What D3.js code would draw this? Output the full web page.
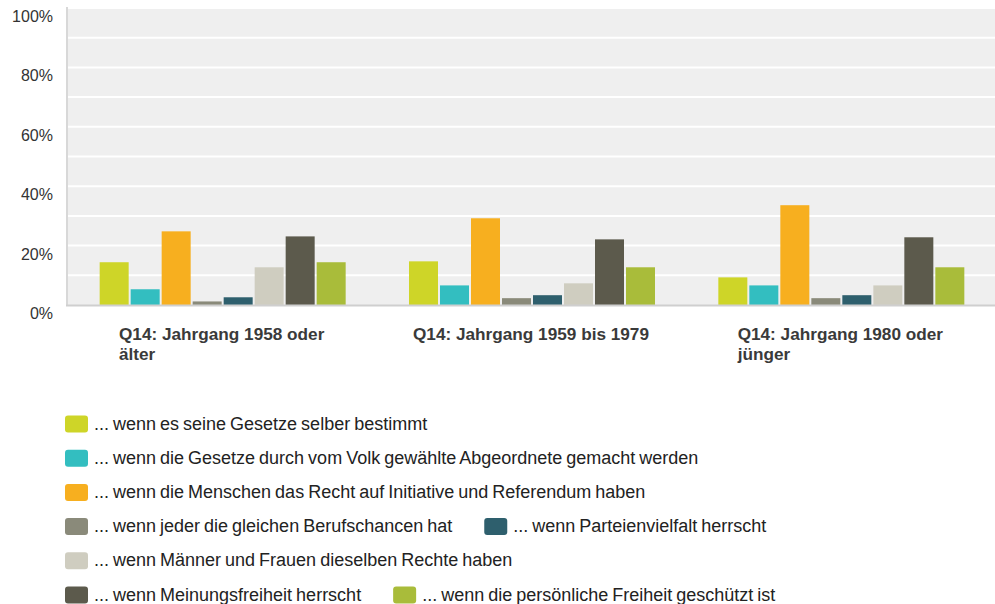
<!DOCTYPE html>
<html>
<head>
<meta charset="utf-8">
<script src="https://cdn.jsdelivr.net/npm/d3@7"></script>
<style>
  body { margin: 0; background: #fff; }
  text { font-family: "Liberation Sans", Arial, sans-serif; }
</style>
</head>
<body>
<div id="chart"></div>
<script>
var groups = ["Q14: Jahrgang 1958 oder älter", "Q14: Jahrgang 1959 bis 1979", "Q14: Jahrgang 1980 oder jünger"];
var seriesNames = [
  "... wenn es seine Gesetze selber bestimmt",
  "... wenn die Gesetze durch vom Volk gewählte Abgeordnete gemacht werden",
  "... wenn die Menschen das Recht auf Initiative und Referendum haben",
  "... wenn jeder die gleichen Berufschancen hat",
  "... wenn Parteienvielfalt herrscht",
  "... wenn Männer und Frauen dieselben Rechte haben",
  "... wenn Meinungsfreiheit herrscht",
  "... wenn die persönliche Freiheit geschützt ist"
];
var colors = ["#ced528", "#33bec0", "#f7af1f", "#8a8a7a", "#2e5f6d", "#cfcdc0", "#5c5a4c", "#a9bc3a"];
// percent per group, one array per series
var values1958 = [14.4, 5.3, 24.8, 1.2, 2.6, 12.7, 23.1, 14.4];
var values1959 = [14.7, 6.6, 29.2, 2.3, 3.3, 7.3, 22.1, 12.7];
var values1980 = [9.3, 6.6, 33.6, 2.3, 3.3, 6.6, 22.8, 12.7];
var yTicks = [0, 20, 40, 60, 80, 100];

var data = groups.map(function(g, i){
  var vals = [values1958, values1959, values1980][i];
  return { group: g, values: vals.map(function(v, j){ return { s: j, v: v }; }) };
});

var props = { width: 995, height: 604, left: 67, right: 995, top: 8, bottom: 305 };

var svg = d3.select("#chart").append("svg").attr("width", props.width).attr("height", props.height);

var y = d3.scaleLinear().domain([0, 100]).range([props.bottom, props.top]);
var x0 = d3.scaleBand().domain(groups).range([props.left, props.right]);
var innerW = 246;
var x1 = d3.scaleBand().domain(d3.range(seriesNames.length)).range([0, innerW]).paddingInner(2 / 31);
var innerOff = (x0.bandwidth() - innerW) / 2 + 1;

// plot background
svg.append("rect")
  .attr("x", props.left).attr("y", props.top - 1)
  .attr("width", props.right - props.left).attr("height", props.bottom - props.top + 1)
  .style("fill", "#efefef");

// gridlines
svg.append("g").selectAll("line")
  .data(d3.range(10, 101, 10))
  .enter()
  .append("line")
  .attr("x1", props.left).attr("x2", props.right)
  .attr("y1", function(d){ return y(d); }).attr("y2", function(d){ return y(d); })
  .style("stroke", "#fff").style("stroke-width", 2);

// bars
var gs = svg.append("g").selectAll(".grp")
  .data(data)
  .enter()
  .append("g")
  .attr("transform", function(d){ return "translate(" + (x0(d.group) + innerOff) + ",0)"; });

gs.selectAll("rect")
  .data(function(d){ return d.values; })
  .enter()
  .append("rect")
  .attr("x", function(d){ return x1(d.s); })
  .attr("width", x1.bandwidth())
  .attr("y", function(d){ return y(d.v); })
  .attr("height", function(d){ return y(0) - y(d.v); })
  .style("fill", function(d){ return colors[d.s]; });

// borders
svg.append("line")
  .attr("x1", props.left).attr("x2", props.left)
  .attr("y1", props.top - 1).attr("y2", props.bottom + 1)
  .style("stroke", "#d8d8d8").style("stroke-width", 2);
svg.append("line")
  .attr("x1", props.left - 1).attr("x2", props.right)
  .attr("y1", props.bottom + 0.5).attr("y2", props.bottom + 0.5)
  .style("stroke", "#cfcfcf").style("stroke-width", 2);

// y labels
svg.append("g").selectAll("text")
  .data(yTicks)
  .enter()
  .append("text")
  .attr("x", 53)
  .attr("y", function(d){ return y(d) + 14; })
  .attr("text-anchor", "end")
  .style("font-size", "16px")
  .style("fill", "#333")
  .text(function(d){ return d + "%"; });

// category labels, wrapped, block centred in band
var wrapW = 238;
groups.forEach(function(g){
  var t = svg.append("text")
    .style("font-size", "17.2px").style("font-weight", "bold").style("fill", "#3a3a3a");
  var words = g.split(" "), lines = [], cur = [];
  var probe = t.append("tspan");
  words.forEach(function(w){
    var test = cur.concat([w]).join(" ");
    probe.text(test);
    if (probe.node().getComputedTextLength() > wrapW && cur.length) {
      lines.push(cur.join(" "));
      cur = [w];
    } else {
      cur.push(w);
    }
  });
  lines.push(cur.join(" "));
  probe.remove();
  var spans = lines.map(function(l, i){
    return t.append("tspan").attr("y", 340 + i * 20).text(l);
  });
  var maxW = d3.max(spans, function(s){ return s.node().getComputedTextLength(); });
  var cx = x0(g) + x0.bandwidth() / 2;
  spans.forEach(function(s){ s.attr("x", cx - maxW / 2); });
});

// legend, flow layout
var legend = svg.append("g");
var lx = 65, ly = 424, maxRow = 720, rowStep = 34.2, cx = 0;
seriesNames.forEach(function(name, i){
  var item = legend.append("g");
  item.append("rect")
    .attr("width", 23).attr("height", 17).attr("rx", 3)
    .attr("y", -8.5)
    .style("fill", colors[i]);
  var txt = item.append("text")
    .attr("x", 29).attr("y", 5.5)
    .style("font-size", "18px").style("word-spacing", "-1px").style("fill", "#222")
    .text(name);
  var w = 29 + txt.node().getComputedTextLength();
  if (cx > 0 && cx + w > maxRow) { cx = 0; ly += rowStep; }
  item.attr("transform", "translate(" + (lx + cx) + "," + ly + ")");
  cx += w + 32;
});
</script>
</body>
</html>
